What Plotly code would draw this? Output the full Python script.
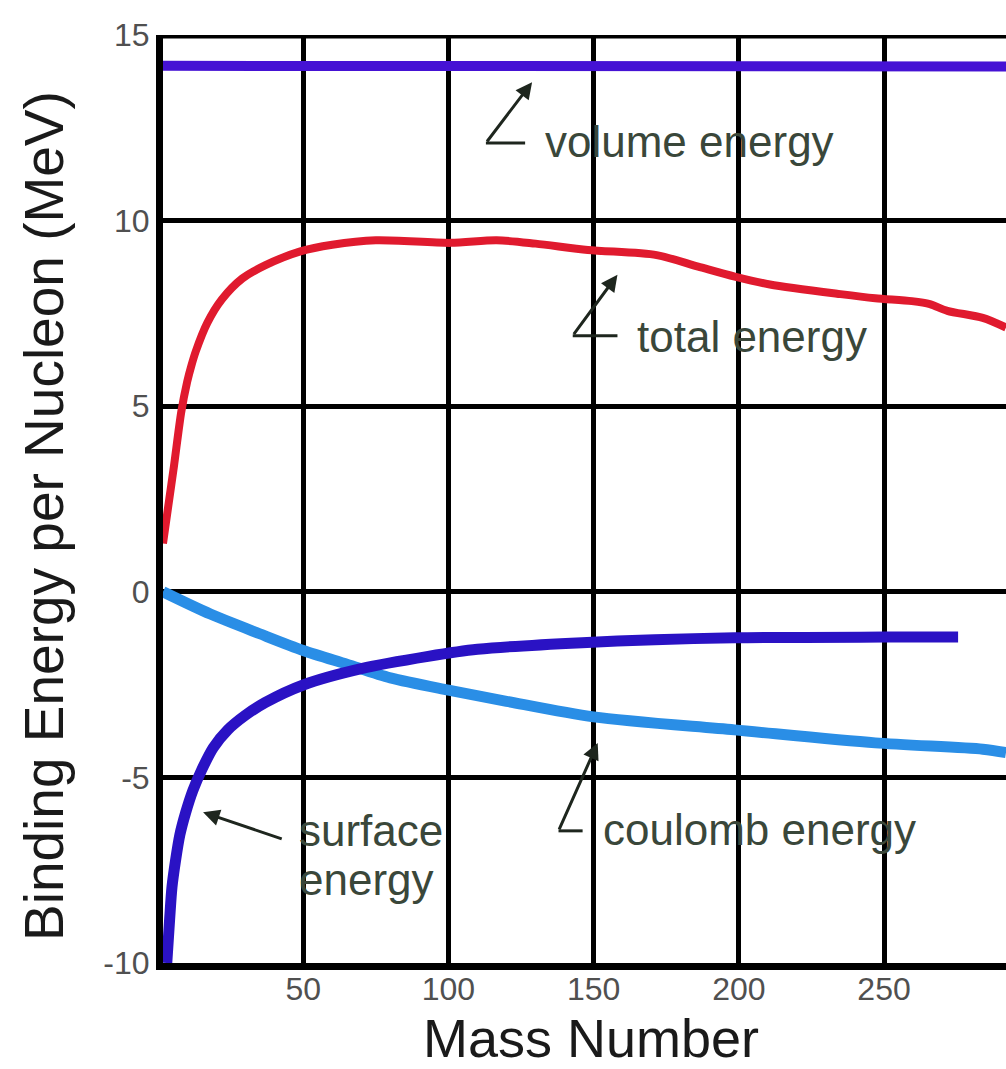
import plotly.graph_objects as go

# ---- data ----
mass_volume = [1.7, 50, 100, 150, 200, 250, 292]
volume_energy = [14.17, 14.17, 14.16, 14.15, 14.13, 14.15, 14.15]

mass_total = [1.7, 3.5, 5.5, 8, 10, 11.5, 13, 17, 22, 29, 37, 49, 60, 75, 100.7,
              116.6, 130, 148, 171.7, 186, 198.6, 210.7, 235, 247, 259.6, 265.8,
              271.8, 284, 292]
total_energy = [1.3, 2.3, 3.4, 4.85, 5.65, 6.1, 6.48, 7.25, 7.88, 8.44, 8.8, 9.17, 9.35,
                9.47, 9.4, 9.47, 9.38, 9.21, 9.07, 8.76, 8.49, 8.28, 8.02, 7.91, 7.83,
                7.75, 7.57, 7.38, 7.12]

mass_surface = [3.0, 4.0, 4.8, 6, 7.5, 9.5, 12, 15, 19, 24, 30, 37, 50, 70, 93, 110,
                146, 198.5, 250, 275.5]
surface_energy = [-10.0, -8.8, -7.95, -7.25, -6.55, -5.95, -5.35, -4.8, -4.2, -3.72, -3.33,
                  -2.98, -2.51, -2.07, -1.74, -1.55, -1.37, -1.24, -1.22, -1.22]

mass_coulomb = [1.7, 18, 35, 50, 65, 80, 100, 120, 150, 198.5, 247, 284, 292]
coulomb_energy = [0.0, -0.6, -1.13, -1.58, -1.95, -2.32, -2.65, -2.95, -3.37, -3.72, -4.07,
                  -4.24, -4.33]

x_ticks = [50, 100, 150, 200, 250]
y_ticks = [-10, -5, 0, 5, 10, 15]

# ---- styles ----
FONT = "Liberation Sans, Arial, sans-serif"
TXT = "#3a473a"
INK = "#1e261e"

fig = go.Figure()
fig.add_trace(go.Scatter(x=mass_volume, y=volume_energy, mode="lines",
                         line=dict(color="#4512d4", width=10), name="volume energy"))
fig.add_trace(go.Scatter(x=mass_total, y=total_energy, mode="lines",
                         line=dict(color="#e01a2e", width=8, shape="spline", smoothing=0.8),
                         name="total energy"))
fig.add_trace(go.Scatter(x=mass_coulomb, y=coulomb_energy, mode="lines",
                         line=dict(color="#2a8ee6", width=11, shape="spline", smoothing=0.8),
                         name="coulomb energy"))
fig.add_trace(go.Scatter(x=mass_surface, y=surface_energy, mode="lines",
                         line=dict(color="#2a12c4", width=11, shape="spline", smoothing=0.8),
                         name="surface energy"))

annotations = []
shapes = []

def label(x, y, text):
    annotations.append(dict(x=x, y=y, xref="x", yref="y", text=text, showarrow=False,
                            xanchor="left", yanchor="middle",
                            font=dict(family=FONT, size=44, color=TXT)))

def leader(tip, corner, hend):
    annotations.append(dict(x=tip[0], y=tip[1], xref="x", yref="y",
                            ax=corner[0], ay=corner[1], axref="x", ayref="y",
                            text="", showarrow=True, arrowhead=2, arrowsize=1.1,
                            arrowwidth=3, arrowcolor=INK))
    shapes.append(dict(type="line", xref="x", yref="y", x0=corner[0], y0=corner[1],
                       x1=hend, y1=corner[1], line=dict(color=INK, width=3)))

label(132.4, 12.12, "volume energy")
leader((128.8, 13.73), (112.9, 12.09), 126.4)

label(164.1, 6.88, "total energy")
leader((158.2, 8.54), (142.8, 6.9), 158.2)

label(152.4, -6.4, "coulomb energy")
leader((151.4, -4.07), (137.9, -6.44), 146.2)

label(47.9, -6.44, "surface")
label(47.9, -7.75, "energy")
annotations.append(dict(x=15.5, y=-5.94, xref="x", yref="y", ax=43.1, ay=-6.67,
                        axref="x", ayref="y", text="", showarrow=True, arrowhead=2,
                        arrowsize=1.1, arrowwidth=3, arrowcolor=INK))

# axis titles
annotations.append(dict(x=0.508, y=-0.081, xref="paper", yref="paper", text="Mass Number",
                        showarrow=False, xanchor="center", yanchor="middle",
                        font=dict(family=FONT, size=54, color="#1a1a1a")))
annotations.append(dict(x=-0.142, y=0.482, xref="paper", yref="paper",
                        text="Binding Energy per Nucleon (MeV)", textangle=-90,
                        showarrow=False, xanchor="center", yanchor="middle",
                        font=dict(family=FONT, size=55, color="#1a1a1a")))

# top border
shapes.append(dict(type="line", xref="paper", yref="y", x0=-0.004, x1=1, y0=15, y1=15,
                   line=dict(color="black", width=7)))

fig.update_layout(
    width=1006, height=1069,
    margin=dict(l=163, r=0, t=35, b=106),
    paper_bgcolor="white", plot_bgcolor="white",
    showlegend=False,
    annotations=annotations, shapes=shapes,
    xaxis=dict(range=[1.7, 292], tickvals=x_ticks, ticktext=[str(v) for v in x_ticks],
               showgrid=True, gridcolor="black", gridwidth=4.5, zeroline=False,
               showline=True, linecolor="black", linewidth=7, ticks="", ticklen=0,
               ticklabelstandoff=-8,
               tickfont=dict(family=FONT, size=32, color="#505050")),
    yaxis=dict(range=[-10, 15], tickvals=y_ticks, ticktext=[str(v) for v in y_ticks],
               showgrid=True, gridcolor="black", gridwidth=4.5, zeroline=False,
               showline=True, linecolor="black", linewidth=7, ticks="", ticklen=0,
               ticklabelstandoff=0,
               tickfont=dict(family=FONT, size=32, color="#505050")),
)

fig.write_html("out.html", config={"displayModeBar": False},
               post_script="document.body.style.margin='0px';")
